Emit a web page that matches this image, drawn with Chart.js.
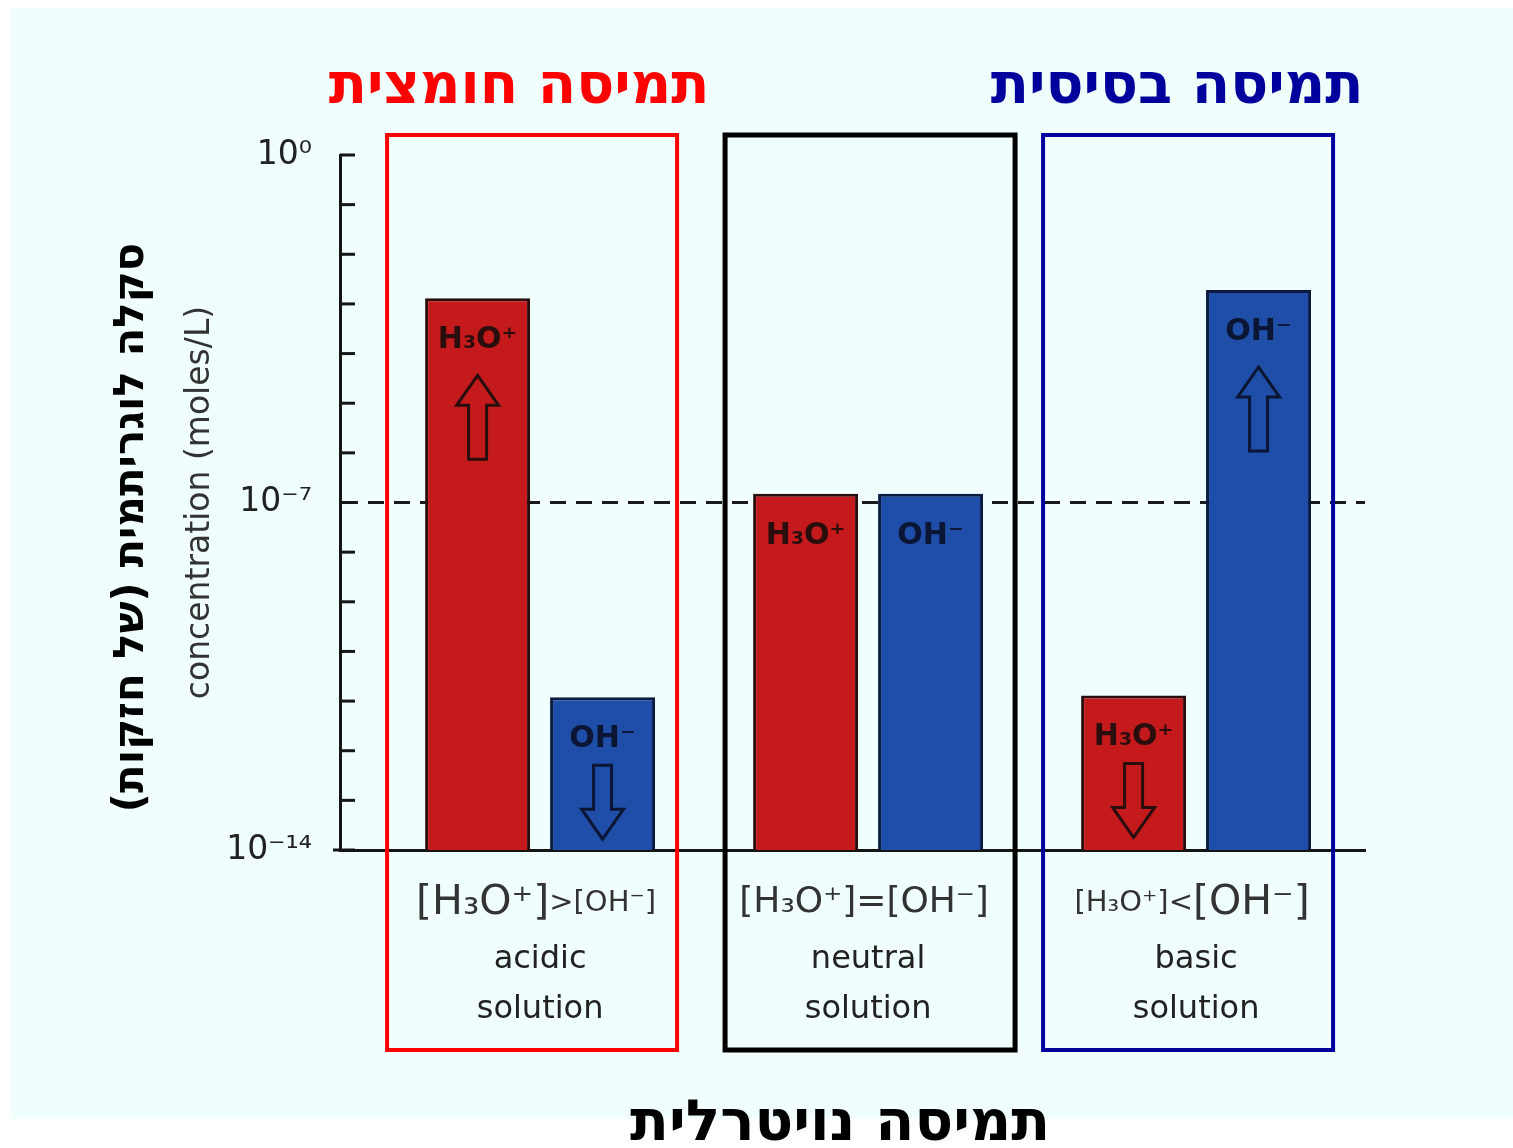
<!DOCTYPE html>
<html>
<head>
<meta charset="utf-8">
<script src="https://cdn.jsdelivr.net/npm/chart.js@4.4.0/dist/chart.umd.min.js"></script>
<style>
  html, body { margin: 0; padding: 0; background: #fff; }
  #wrap { position: relative; width: 1513px; height: 1148px; }
  #panel { position: absolute; left: 11px; top: 8px; width: 1502px; height: 1111px; background: #f0fefe; }
  #chartBox { position: absolute; left: 0; top: 0; width: 1513px; height: 1148px; }
</style>
</head>
<body>
<div id="wrap">
  <div id="panel"></div>
  <div id="chartBox"><canvas id="myChart"></canvas></div>
</div>
<script>
// concentrations (moles/L)
const groupNames = ['acidic', 'neutral', 'basic'];
const seriesNames = ['H₃O⁺', 'OH⁻'];
const h3oValues = [1.3e-3, 1.5e-7, 1.3e-11];
const ohValues = [1.2e-11, 1.5e-7, 1.9e-3];
const h3oArrows = ['up', '', 'down'];
const ohArrows = ['down', '', 'up'];

const yExponents = [0, -1, -2, -3, -4, -5, -6, -7, -8, -9, -10, -11, -12, -13, -14];
const yTickLabels = { '0': '10⁰', '-7': '10⁻⁷', '-14': '10⁻¹⁴' };
const neutralExponent = -7;

const formulaParts = [
  [['[H₃O⁺]', 'big'], ['>[OH⁻]', 'small']],
  [['[H₃O⁺]=[OH⁻]', 'mid']],
  [['[H₃O⁺]<', 'small'], ['[OH⁻]', 'big']]
];

const acidTitle = 'תמיסה חומצית';
const baseTitle = 'תמיסה בסיסית';
const neutralTitle = 'תמיסה נויטרלית';
const yTitleHe = 'סקלה לוגריתמית (של חזקות)';
const yTitleEn = 'concentration (moles/L)';

const RED = '#c41a1c';
const BLUE = '#1f4ea8';

function drawArrow(ctx, cx, yStart, dir) {
  const headH = 30, headW = 21, shaftW = 9;
  let tipY, tailY, d;
  if (dir === 'up') { tipY = yStart; tailY = yStart + 84; d = 1; }
  else { tailY = yStart; tipY = yStart + 74; d = -1; }
  const baseY = tipY + d * headH;
  ctx.beginPath();
  ctx.moveTo(cx, tipY);
  ctx.lineTo(cx + headW, baseY);
  ctx.lineTo(cx + shaftW, baseY);
  ctx.lineTo(cx + shaftW, tailY);
  ctx.lineTo(cx - shaftW, tailY);
  ctx.lineTo(cx - shaftW, baseY);
  ctx.lineTo(cx - headW, baseY);
  ctx.closePath();
  ctx.stroke();
}

const decorPlugin = {
  id: 'decor',
  afterDraw(chart) {
    const { ctx, chartArea } = chart;
    const xs = chart.scales.x, ys = chart.scales.y;
    ctx.save();

    // tick marks pointing into the plot
    ctx.strokeStyle = '#151515';
    ctx.lineWidth = 3;
    ys.ticks.forEach(t => {
      const py = ys.getPixelForValue(t.value);
      ctx.beginPath();
      ctx.moveTo(chartArea.left, py);
      ctx.lineTo(chartArea.left + 15, py);
      ctx.stroke();
    });
    // x axis runs a little past the y axis
    ctx.beginPath();
    ctx.moveTo(chartArea.left - 7, chartArea.bottom);
    ctx.lineTo(chartArea.left, chartArea.bottom);
    ctx.stroke();

    // labels + arrows inside the bars
    const arrowSets = [h3oArrows, ohArrows];
    chart.data.datasets.forEach((ds, di) => {
      const meta = chart.getDatasetMeta(di);
      const ink = di === 0 ? '#2a0e0e' : '#0b1534';
      meta.data.forEach((bar, i) => {
        ctx.fillStyle = ink;
        ctx.font = 'bold 30px "DejaVu Sans"';
        ctx.textAlign = 'center';
        ctx.textBaseline = 'middle';
        ctx.fillText(ds.label, bar.x, bar.y + 42);
        const dir = arrowSets[di][i];
        if (dir) {
          ctx.strokeStyle = ink;
          ctx.lineWidth = 3;
          drawArrow(ctx, bar.x, bar.y + (dir === 'up' ? 77 : 68), dir);
        }
      });
    });

    // formulas under each group
    const sizes = { big: 41, mid: 36, small: 29 };
    ctx.fillStyle = '#333';
    ctx.textBaseline = 'middle';
    ctx.textAlign = 'left';
    formulaParts.forEach((parts, i) => {
      const cx = xs.getPixelForValue(i) - 4;
      let total = 0;
      parts.forEach(p => { ctx.font = sizes[p[1]] + 'px "DejaVu Sans"'; total += ctx.measureText(p[0]).width; });
      let px = cx - total / 2;
      parts.forEach(p => {
        ctx.font = sizes[p[1]] + 'px "DejaVu Sans"';
        ctx.fillText(p[0], px, chartArea.bottom + 53);
        px += ctx.measureText(p[0]).width;
      });
    });

    // frames around the groups
    const frameColors = ['#ff0000', '#000000', '#00009c'];
    const frameWidths = [4, 5, 4];
    const frameShift = [-8, 2, -8];
    frameColors.forEach((c, i) => {
      const cx = xs.getPixelForValue(i) + frameShift[i];
      ctx.strokeStyle = c;
      ctx.lineWidth = frameWidths[i];
      ctx.strokeRect(cx - 145, chartArea.top - 20, 290, chartArea.bottom + 200 - (chartArea.top - 20));
    });

    // hebrew titles
    ctx.direction = 'rtl';
    ctx.textAlign = 'center';
    ctx.font = 'bold 56px "DejaVu Sans"';
    ctx.fillStyle = '#ff0000';
    ctx.fillText(acidTitle, xs.getPixelForValue(0) - 21, 88);
    ctx.fillStyle = '#00009c';
    ctx.fillText(baseTitle, xs.getPixelForValue(2) - 19, 88);
    ctx.fillStyle = '#000';
    ctx.font = 'bold 57px "DejaVu Sans"';
    ctx.fillText(neutralTitle, xs.getPixelForValue(1) - 28, 1125);

    // rotated axis titles
    const midY = (chartArea.top + chartArea.bottom) / 2;
    ctx.save();
    ctx.translate(chartArea.left - 208, midY + 25);
    ctx.rotate(-Math.PI / 2);
    ctx.font = 'bold 42px "DejaVu Sans"';
    ctx.fillStyle = '#000';
    ctx.fillText(yTitleHe, 0, 0);
    ctx.restore();

    ctx.save();
    ctx.direction = 'ltr';
    ctx.translate(chartArea.left - 140, midY);
    ctx.rotate(-Math.PI / 2);
    ctx.font = '33px "DejaVu Sans"';
    ctx.fillStyle = '#333';
    ctx.fillText(yTitleEn, 0, 0);
    ctx.restore();

    ctx.restore();
  }
};

new Chart('myChart', {
  type: 'bar',
  data: {
    datasets: [
      {
        label: seriesNames[0],
        data: h3oValues.map((v, i) => ({ x: i, y: v })),
        backgroundColor: RED,
        borderColor: '#2a0c0c',
        borderWidth: 3
      },
      {
        label: seriesNames[1],
        data: ohValues.map((v, i) => ({ x: i, y: v })),
        backgroundColor: BLUE,
        borderColor: '#0b1a3f',
        borderWidth: 3
      }
    ]
  },
  options: {
    responsive: true,
    maintainAspectRatio: false,
    animation: false,
    devicePixelRatio: 1,
    datasets: { bar: { categoryPercentage: 0.762, barPercentage: 0.84 } },
    layout: { padding: { top: 155, right: 148, bottom: 0, left: 0 } },
    plugins: { legend: { display: false }, tooltip: { enabled: false } },
    scales: {
      x: {
        type: 'linear',
        min: -0.61,
        max: 2.515,
        offset: false,
        afterFit: s => { s.height = 298; },
        afterBuildTicks: s => { s.ticks = groupNames.map((g, i) => ({ value: i })); },
        grid: { display: false, drawTicks: false },
        border: { display: true, color: '#151515', width: 3 },
        ticks: {
          autoSkip: false,
          maxRotation: 0,
          padding: 85,
          color: '#222',
          font: { family: 'DejaVu Sans', size: 32, lineHeight: 1.56 },
          callback: v => [groupNames[v], 'solution']
        }
      },
      y: {
        type: 'logarithmic',
        min: 1e-14,
        max: 1,
        afterFit: s => { s.width = 340; },
        afterBuildTicks: s => { s.ticks = yExponents.map(e => ({ value: Math.pow(10, e) })); },
        grid: {
          display: true,
          drawTicks: false,
          lineWidth: 3,
          color: c => (c.tick && Math.round(Math.log10(c.tick.value)) === neutralExponent) ? '#1a1a1a' : 'rgba(0,0,0,0)'
        },
        border: { display: true, color: '#151515', width: 3, dash: [16, 10] },
        ticks: {
          autoSkip: false,
          padding: 28,
          color: '#222',
          font: { family: 'DejaVu Sans', size: 33 },
          callback: v => yTickLabels[String(Math.round(Math.log10(v)))] || ''
        }
      }
    }
  },
  plugins: [decorPlugin]
});
</script>
</body>
</html>
